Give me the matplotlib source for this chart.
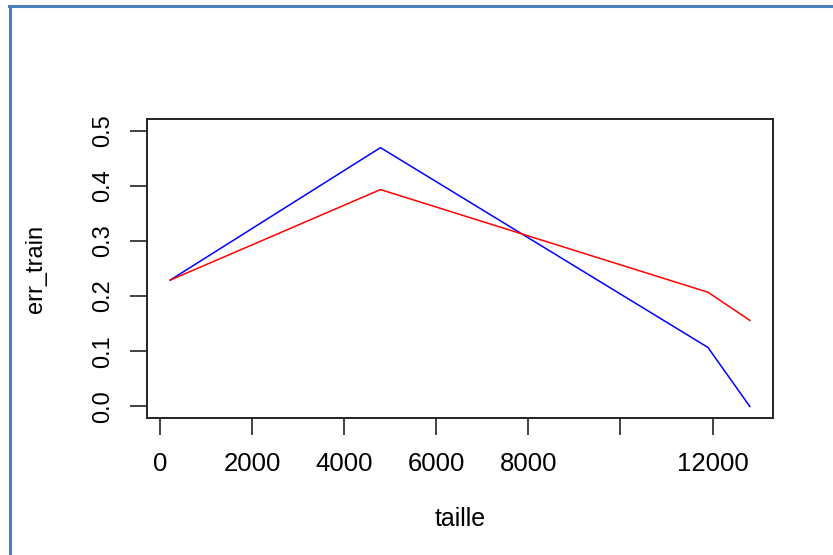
import matplotlib.pyplot as plt
from matplotlib.lines import Line2D

taille = [225, 4790, 11900, 12810]
err_blue = [0.229, 0.469, 0.107, 0.0]
err_red = [0.229, 0.393, 0.207, 0.156]

x_ticks = [0, 2000, 4000, 6000, 8000, 10000, 12000]
x_labels = ["0", "2000", "4000", "6000", "8000", "", "12000"]
y_ticks = [0.0, 0.1, 0.2, 0.3, 0.4, 0.5]
y_labels = ["0.0", "0.1", "0.2", "0.3", "0.4", "0.5"]

plt.rcParams["font.family"] = ["Liberation Sans", "DejaVu Sans"]

fig = plt.figure(figsize=(8.33, 5.55), dpi=100)
ax = fig.add_axes([0.1765, 0.2477, 0.7515, 0.537])

ax.plot(taille, err_blue, color="#0000ff", linewidth=1.1)
ax.plot(taille, err_red, color="#ff0000", linewidth=1.1)

# R-style 4% axis expansion
span = max(taille) - min(taille)
ax.set_xlim(min(taille) - 0.04 * span, max(taille) + 0.04 * span)
ax.set_ylim(-0.02, 0.52)

ax.set_xticks(x_ticks)
ax.set_xticklabels(x_labels, fontsize=18.5)
ax.set_yticks(y_ticks)
ax.set_yticklabels(y_labels, fontsize=17, rotation=90, va="center")
ax.tick_params(direction="out", length=12, width=1.2, color="#222222")
ax.tick_params(axis="x", pad=13)
ax.tick_params(axis="y", pad=12)

for s in ax.spines.values():
    s.set_linewidth(1.4)
    s.set_color("#222222")

ax.set_xlabel("taille", fontsize=18, labelpad=22)
ax.set_ylabel("err_train", fontsize=17, labelpad=32)

# screenshot frame
fig.add_artist(Line2D([9 / 833, 1], [1 - 6 / 555, 1 - 6 / 555],
                      transform=fig.transFigure, color="#4a7fc4", linewidth=2.2))
fig.add_artist(Line2D([10 / 833, 10 / 833], [0, 1 - 6 / 555],
                      transform=fig.transFigure, color="#4a7fc4", linewidth=2.2))

fig.savefig("out.png", dpi=100)
